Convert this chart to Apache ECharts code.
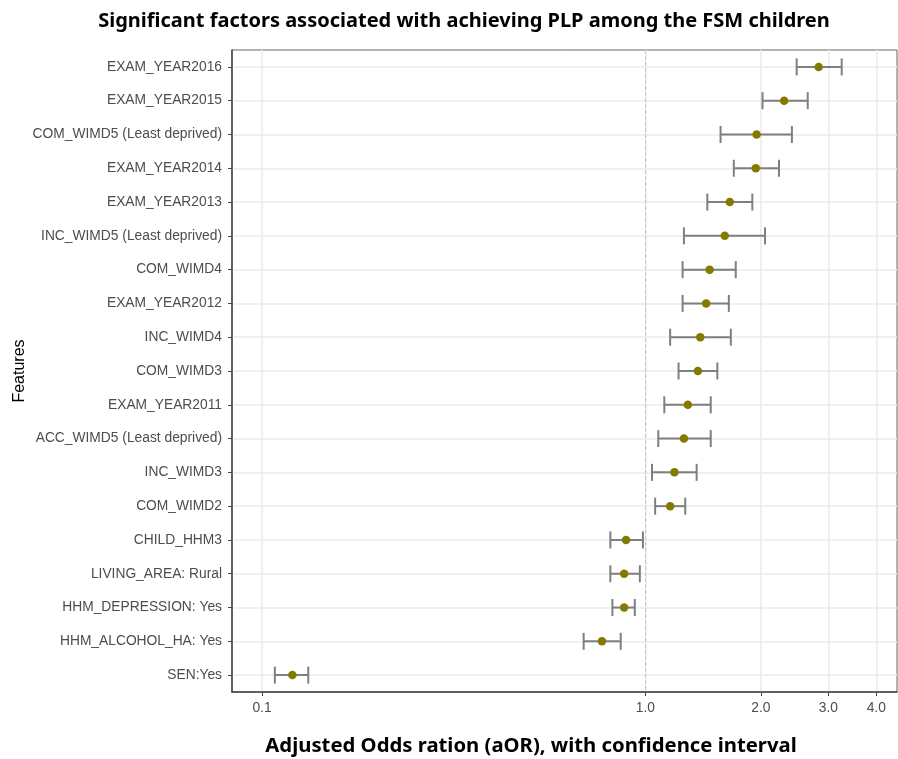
<!DOCTYPE html>
<html>
<head>
<meta charset="utf-8">
<script src="https://cdn.jsdelivr.net/npm/echarts@6/dist/echarts.min.js"></script>
<style>html,body{margin:0;padding:0;background:#fff}#c{width:898px;height:759px}</style>
</head>
<body>
<div id="c"></div>
<script>
const categories = ["EXAM_YEAR2016","EXAM_YEAR2015","COM_WIMD5 (Least deprived)","EXAM_YEAR2014","EXAM_YEAR2013","INC_WIMD5 (Least deprived)","COM_WIMD4","EXAM_YEAR2012","INC_WIMD4","COM_WIMD3","EXAM_YEAR2011","ACC_WIMD5 (Least deprived)","INC_WIMD3","COM_WIMD2","CHILD_HHM3","LIVING_AREA: Rural","HHM_DEPRESSION: Yes","HHM_ALCOHOL_HA: Yes","SEN:Yes"];
const aOR   = [2.83, 2.30, 1.95, 1.94, 1.66, 1.61, 1.47, 1.44, 1.39, 1.37, 1.29, 1.26, 1.19, 1.16, 0.89, 0.88, 0.88, 0.77, 0.12];
const lower = [2.48, 2.02, 1.57, 1.70, 1.45, 1.26, 1.25, 1.25, 1.16, 1.22, 1.12, 1.08, 1.04, 1.06, 0.81, 0.81, 0.82, 0.69, 0.108];
const upper = [3.25, 2.65, 2.41, 2.23, 1.90, 2.05, 1.72, 1.65, 1.67, 1.54, 1.48, 1.48, 1.36, 1.27, 0.985, 0.967, 0.938, 0.862, 0.132];
const xTicks = [0.1, 1, 2, 3, 4];
const refLine = 1;
const titleText = "Significant factors associated with achieving PLP among the FSM children";
const xTitle = "Adjusted Odds ration (aOR), with confidence interval";
const yTitle = "Features";

const chart = echarts.init(document.getElementById('c'), null, {renderer: 'canvas'});
const errData = categories.map((c, i) => [lower[i], upper[i], i]);
const ptData = categories.map((c, i) => [aOR[i], i]);

chart.setOption({
  animation: false,
  backgroundColor: '#ffffff',
  title: [
    {text: titleText, left: 459, top: 6, textAlign: 'center',
     textStyle: {fontFamily: 'Noto Sans', fontWeight: 'bold', fontSize: 20, color: '#000'}},
    {text: xTitle, left: 526, top: 731, textAlign: 'center',
     textStyle: {fontFamily: 'Noto Sans', fontWeight: 'bold', fontSize: 20.3, color: '#000'}}
  ],
  grid: {left: 232, right: 1, top: 50, bottom: 67, show: true, borderColor: '#666', borderWidth: 1,
         outerBoundsMode: 'none', containLabel: false},
  xAxis: {
    type: 'log', logBase: 10, min: 0.0835, max: 4.53,
    axisLine: {show: true, onZero: false, lineStyle: {color: '#444', width: 1.5}},
    axisTick: {show: true, length: 4, customValues: xTicks, lineStyle: {color: '#444', width: 1}},
    axisLabel: {customValues: xTicks, margin: 9, color: '#4d4d4d', fontFamily: 'Liberation Sans', fontSize: 13.8,
      formatter: v => Number(v).toFixed(1)},
    splitLine: {show: true, lineStyle: {color: '#ebebeb', width: 1.6}}
  },
  yAxis: {
    type: 'category', data: categories, inverse: true,
    name: yTitle, nameLocation: 'middle', nameGap: 204, nameRotate: 90, nameMoveOverlap: false,
    nameTextStyle: {fontFamily: 'Liberation Sans', fontSize: 16, color: '#000'},
    axisLine: {show: true, lineStyle: {color: '#444', width: 1.5}},
    axisTick: {show: true, alignWithLabel: true, length: 4, lineStyle: {color: '#444'}},
    axisLabel: {margin: 10, color: '#4d4d4d', fontFamily: 'Liberation Sans', fontSize: 13.8},
    splitLine: {show: true, alignWithLabel: true, lineStyle: {color: '#ebebeb', width: 1.6}}
  },
  series: [
    {
      type: 'custom',
      data: errData,
      encode: {x: [0, 1], y: 2},
      z: 2,
      renderItem: function (params, api) {
        const idx = api.value(2);
        const p1 = api.coord([api.value(0), idx]);
        const p2 = api.coord([api.value(1), idx]);
        const h = 8.5;
        const style = {stroke: '#7f7f7f', lineWidth: 2, fill: null};
        return {
          type: 'group',
          children: [
            {type: 'line', shape: {x1: p1[0], y1: p1[1], x2: p2[0], y2: p2[1]}, style: style},
            {type: 'line', shape: {x1: p1[0], y1: p1[1] - h, x2: p1[0], y2: p1[1] + h}, style: style},
            {type: 'line', shape: {x1: p2[0], y1: p2[1] - h, x2: p2[0], y2: p2[1] + h}, style: style}
          ]
        };
      }
    },
    {
      type: 'scatter',
      data: ptData,
      symbolSize: 8.5,
      z: 3,
      itemStyle: {color: '#857a00', opacity: 1},
      markLine: {
        silent: true, symbol: 'none', label: {show: false},
        lineStyle: {color: '#c8c8c8', type: 'dashed', width: 1},
        data: [{xAxis: refLine}]
      }
    }
  ]
});
</script>
</body>
</html>
